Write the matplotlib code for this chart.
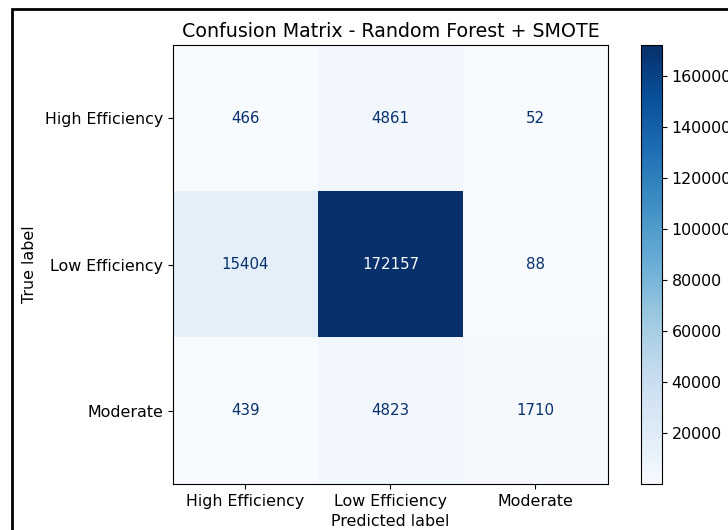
import numpy as np
import matplotlib
matplotlib.use("Agg")
from matplotlib import pyplot as plt
from matplotlib.patches import Rectangle

klassen = ["High Efficiency", "Low Efficiency", "Moderate"]   # labels
matrix = np.array([[466, 4861, 52],
                   [15404, 172157, 88],
                   [439, 4823, 1710]])                          # waarden
cbar_ticks = [20000, 40000, 60000, 80000, 100000, 120000, 140000, 160000]

fig = plt.figure(figsize=(7.28, 5.30), dpi=100)

# zwarte rand rond de figuur (rechts en onder afgesneden)
fig.patches.append(Rectangle((12/728, -0.1), 1.2, 1.1 - 9/530, transform=fig.transFigure,
                             fill=False, edgecolor="black", linewidth=2, zorder=10))

ax = fig.add_axes([173/728, 1 - 484/530, 435/728, 439/530])
cax = fig.add_axes([641/728, 1 - 484/530, 21/728, 439/530])

cmap = plt.cm.Blues
im = ax.imshow(matrix, cmap=cmap, interpolation="nearest", aspect="auto")

drempel = (matrix.max() + matrix.min()) / 2.0
for i in range(3):
    for j in range(3):
        kleur = cmap(0.0) if matrix[i, j] > drempel else cmap(1.0)
        ax.text(j, i, str(matrix[i, j]), ha="center", va="center", color=kleur, fontsize=10.8)

ax.set_xticks(range(3))
ax.set_yticks(range(3))
ax.set_xticklabels(klassen, fontsize=11.4)
ax.set_yticklabels(klassen, fontsize=11.4)
ax.set_xlabel("Predicted label", fontsize=11.4, labelpad=4)
ax.set_ylabel("True label", fontsize=11.4, labelpad=6)
ax.set_title("Confusion Matrix - Random Forest + SMOTE", fontsize=13.7)

cb = fig.colorbar(im, cax=cax)
cb.set_ticks(cbar_ticks)
cb.ax.tick_params(labelsize=11.4)

fig.savefig("out.png", dpi=100)
